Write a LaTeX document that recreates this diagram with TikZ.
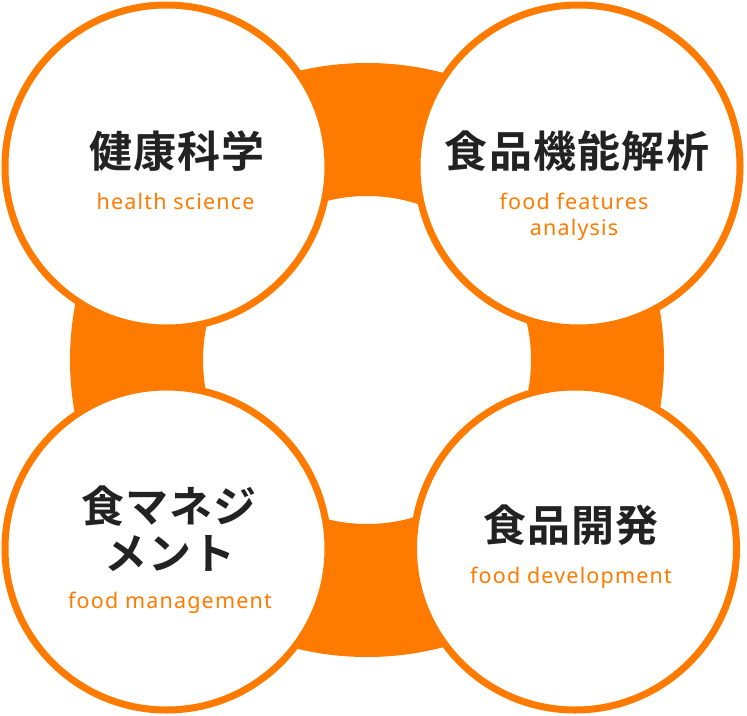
\documentclass[tikz,border=0pt]{standalone}
\usepackage{fontspec}
\usepackage{tikz}
\setmainfont{Noto Sans}[LetterSpace=5.5]
\newfontfamily\jpfont{Noto Sans CJK JP}[BoldFont={* Bold}, LetterSpace=3]
\definecolor{ringColor}{RGB}{255,123,0}
\definecolor{titleColor}{RGB}{34,34,34}
\tikzstyle{areaCircle} = [circle, draw=ringColor, fill=white, line width=7pt, minimum size=323pt, inner sep=0pt]
\tikzstyle{areaTitle} = [anchor=base, inner sep=0pt, text=titleColor, font=\jpfont\bfseries\fontsize{43}{47}\selectfont]
\tikzstyle{areaName} = [anchor=base, inner sep=0pt, text=ringColor, font=\fontsize{21.5}{26}\selectfont]
\newcommand{\ringOuter}{297}
\newcommand{\ringInner}{164}
\newcommand{\areaCircleAt}[3]{\node [areaCircle] (#1) at (#2,#3) {};}
\newcommand{\areaTitleAt}[4]{\node [areaTitle] (#1) at (#2,#3) {#4};}
\newcommand{\areaNameAt}[4]{\node [areaName] (#1) at (#2,#3) {#4};}

\begin{document}
\begin{tikzpicture}[x = 1pt, y = -1pt]
  \useasboundingbox (0,0) rectangle (747,715);
  % the wide band that links the four fields
  \fill [ringColor, even odd rule] (367,360) circle [radius = \ringOuter pt]
                                   (367,360) circle [radius = \ringInner pt];

  \areaCircleAt{healthCircle}{166.5}{166.5}
  \areaCircleAt{featureCircle}{578.5}{166.5}
  \areaCircleAt{managementCircle}{166.5}{548.5}
  \areaCircleAt{developmentCircle}{575}{548.5}

  \areaTitleAt{healthTitle}{177}{167}{健康科学}
  \areaNameAt{healthName}{175.5}{209}{health science}

  \areaTitleAt{featureTitle}{577}{167}{食品機能解析}
  \areaNameAt{featureName}{574}{209}{food features}
  \areaNameAt{featureNameTwo}{574}{235}{analysis}

  \areaTitleAt{managementTitle}{169}{522}{食マネジ}
  \areaTitleAt{managementTitleTwo}{170}{569}{メント}
  \areaNameAt{managementName}{170}{608}{food management}

  \areaTitleAt{developmentTitle}{571}{541}{食品開発}
  \areaNameAt{developmentName}{571}{583}{food development}
\end{tikzpicture}
\end{document}
